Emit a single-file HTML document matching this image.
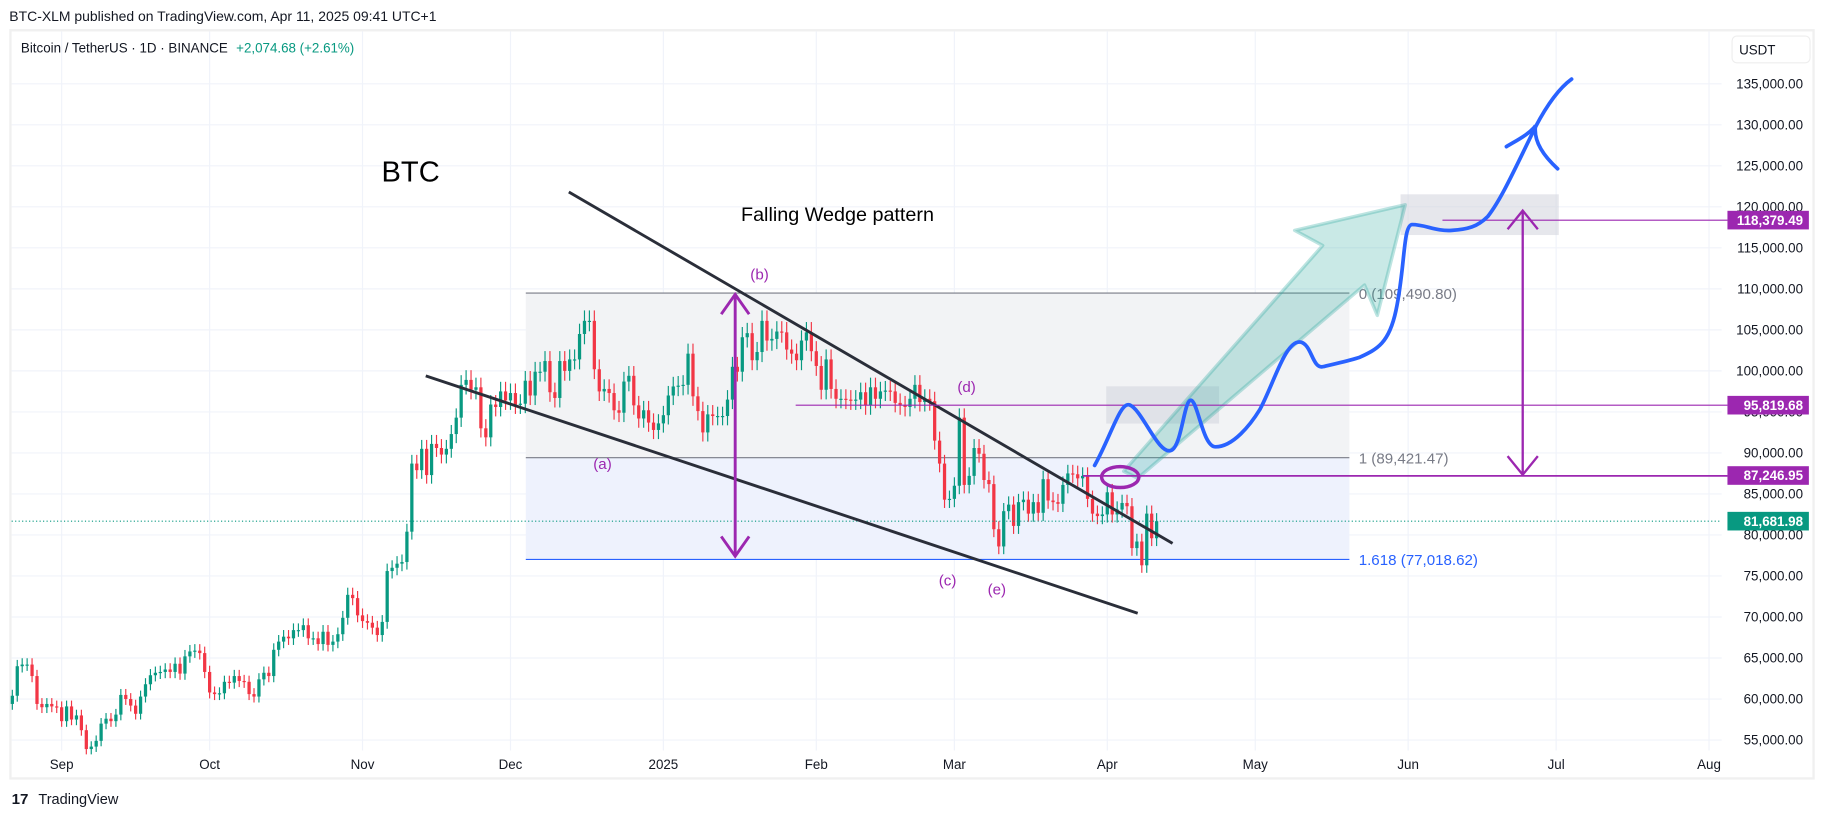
<!DOCTYPE html>
<html><head><meta charset="utf-8"><style>
html,body{margin:0;padding:0;background:#fff;}
svg{display:block;font-family:"Liberation Sans",sans-serif;}
</style></head><body>
<svg id="chart" width="1824" height="818" viewBox="0 0 1568 703" preserveAspectRatio="none" xmlns="http://www.w3.org/2000/svg">
<text x="8" y="18" font-size="12" fill="#131722">BTC-XLM published on TradingView.com, Apr 11, 2025 09:41 UTC+1</text>
<rect x="9" y="26" width="1550" height="643" fill="#fff" stroke="#f0f0f0" stroke-width="2"/>
<g id="grid"></g>
<g id="fib"></g>
<g id="candles"></g>
<g id="drawings"></g>
<g id="axes"></g>
<text x="18" y="45" font-size="11.5" fill="#131722">Bitcoin / TetherUS · 1D · BINANCE <tspan fill="#089981" dx="4">+2,074.68 (+2.61%)</tspan></text>
<rect x="1489" y="31" width="67" height="23" rx="4" fill="#fff" stroke="#eee"/>
<text x="1495" y="47" font-size="11.5" fill="#131722">USDT</text>
<g><text x="10" y="691" font-size="13" font-weight="bold" fill="#131722">17</text><text x="33" y="691" font-size="12.5" fill="#131722">TradingView</text></g>
</svg>
<script>
const NS="http://www.w3.org/2000/svg";
const startDate=Date.UTC(2024,7,22);
const closes=[
60.4,64.0,64.2,64.2,62.8,59.4,59.0,59.4,59.1,59.0,
57.3,59.1,57.5,58.0,56.2,53.9,54.2,54.9,57.0,57.6,57.3,58.1,60.5,60.0,59.2,58.2,60.3,61.8,62.9,63.2,63.3,63.6,63.3,64.3,63.1,65.2,65.8,65.9,65.6,63.3,
60.8,60.6,60.7,62.1,62.0,62.8,62.2,62.1,60.6,60.3,62.4,63.2,62.8,66.0,67.0,67.6,67.4,68.4,68.4,69.0,67.4,67.4,66.7,68.2,66.6,67.0,67.9,69.9,72.7,72.3,70.2,
69.5,69.3,68.7,67.8,69.4,75.6,76.0,76.5,76.7,80.4,88.7,87.9,90.5,87.3,91.1,90.6,89.8,90.5,92.3,94.3,98.3,98.9,97.7,98.0,93.0,91.9,95.9,95.6,97.5,96.4,
97.3,95.9,96.0,98.8,97.0,99.9,99.9,101.2,97.4,96.7,101.2,100.0,101.4,101.4,104.5,106.1,106.1,100.2,97.5,97.8,97.3,95.2,94.9,98.7,99.4,95.8,94.2,95.2,93.7,92.8,93.6,
94.6,97.0,98.1,98.2,98.3,102.1,96.9,95.1,92.5,94.7,94.5,94.5,94.5,96.5,100.5,99.9,104.1,104.6,101.3,102.3,106.1,103.7,103.9,104.8,104.7,102.6,102.1,101.3,103.7,104.7,102.4,
100.6,97.7,101.4,97.8,96.6,96.6,96.5,96.4,96.5,97.4,95.8,98.0,96.6,97.5,97.6,97.5,96.1,95.8,95.6,96.6,98.3,96.2,96.6,96.3,91.5,88.7,84.3,84.4,
86.0,94.3,86.1,87.2,90.6,89.9,86.7,86.2,80.7,78.6,82.9,83.7,81.1,84.0,84.3,82.6,84.0,82.7,86.8,84.2,84.0,83.8,86.1,87.5,87.4,86.9,87.2,84.4,82.6,82.3,82.5,
85.2,82.5,83.1,83.9,83.5,78.4,79.2,76.3,82.6,79.6,81.68
];
const priceTicks=[55000,60000,65000,70000,75000,80000,85000,90000,95000,100000,105000,110000,115000,120000,125000,130000,135000];
const monthLabels=["Sep","Oct","Nov","Dec","2025","Feb","Mar","Apr","May","Jun","Jul","Aug"];
const monthDates=[[2024,8],[2024,9],[2024,10],[2024,11],[2025,0],[2025,1],[2025,2],[2025,3],[2025,4],[2025,5],[2025,6],[2025,7]];
const fibLevels=[109490.80,89421.47,77018.62];
const fibLabels=["0 (109,490.80)","1 (89,421.47)","1.618 (77,018.62)"];
const priceMarkers=[118379.49,95819.68,87246.95,81681.98];

function yP(p){return 72+(135000-p)/1000*7.05;}
function xD(ms){return 53+(ms-Date.UTC(2024,8,1))/86400000*4.24;}
function xI(i){return xD(startDate+i*86400000);}
function mk(tag,attrs,parent){const e=document.createElementNS(NS,tag);for(const k in attrs)e.setAttribute(k,attrs[k]);parent.appendChild(e);return e;}
const grid=document.getElementById('grid'),axes=document.getElementById('axes'),cg=document.getElementById('candles'),fib=document.getElementById('fib'),dr=document.getElementById('drawings');

priceTicks.forEach(p=>{
 const l=mk('line',{x1:10,x2:1480,y1:yP(p),y2:yP(p),stroke:'#f0f3fa','stroke-width':1},grid);
 
 
 const t=mk('text',{x:1550,y:yP(p)+4,'font-size':11.5,fill:'#131722','text-anchor':'end'},axes);
 t.textContent=p.toLocaleString('en-US')+'.00';
 
 
});
monthDates.forEach((d,i)=>{
 const x=xD(Date.UTC(d[0],d[1],1));
 const l=mk('line',{x1:x,x2:x,y1:27,y2:645,stroke:'#f0f3fa','stroke-width':1},grid);
 
 
 const t=mk('text',{x:x,y:661,'font-size':11.5,fill:'#131722','text-anchor':'middle'},axes);
 t.textContent=monthLabels[i];
 
 
});

// fib zones
const fx1=452,fx2=1160;
let r=mk('rect',{x:fx1,y:yP(fibLevels[0]),width:fx2-fx1,height:yP(fibLevels[1])-yP(fibLevels[0]),fill:'#f2f3f5'},fib);


r=mk('rect',{x:fx1,y:yP(fibLevels[1]),width:fx2-fx1,height:yP(fibLevels[2])-yP(fibLevels[1]),fill:'#eef2fd'},fib);


fibLevels.forEach((p,i)=>{
 const c=i==2?'#2962ff':'#787b86';
 const l=mk('line',{x1:fx1,x2:fx2,y1:yP(p),y2:yP(p),stroke:c,'stroke-width':1},fib);
 
 
 const t=mk('text',{x:1168,y:yP(p)+5,'font-size':13,fill:c},fib);
 t.textContent=fibLabels[i];
 
 
});

// candles
closes.forEach((c,i)=>{
 const o=i==0?c-1:closes[i-1];
 const up=c>=o,col=up?'#089981':'#f23645';
 const hi=Math.max(o,c)*1.012,lo=Math.min(o,c)*0.988;
 const x=xI(i);
 const w=mk('line',{x1:x,x2:x,y1:yP(hi*1000),y2:yP(lo*1000),stroke:col,'stroke-width':1},cg);
 
 
 const yt=yP(Math.max(o,c)*1000),yb=yP(Math.min(o,c)*1000);
 const b=mk('rect',{x:x-1.4,y:yt,width:2.8,height:Math.max(1,yb-yt),fill:col},cg);
 
 
});
// last price line
let lp=mk('line',{x1:10,x2:1480,y1:yP(priceMarkers[3]),y2:yP(priceMarkers[3]),stroke:'#089981','stroke-width':1,'stroke-dasharray':'1 2'},dr);


</script>
<script>
// static drawings (annotation shapes)
const D=document.getElementById('drawings');
D.insertAdjacentHTML('beforeend',`
<line x1="489" y1="165" x2="1008" y2="467" stroke="#2a2e39" stroke-width="2.5"/>
<line x1="366" y1="323" x2="978" y2="527" stroke="#2a2e39" stroke-width="2.5"/>
<rect x="951" y="332" width="97" height="32" fill="#d1d4dc" opacity="0.55"/>
<rect x="1204" y="167" width="136" height="35" fill="#d1d4dc" opacity="0.55"/>
<polygon points="966,405 1137,211 1113,198 1208,176 1184,271 1173,245 978,411" fill="rgba(38,166,154,0.25)" stroke="rgba(38,166,154,0.3)" stroke-width="3" stroke-linejoin="round"/>
<line x1="1240" y1="189.2" x2="1485" y2="189.2" stroke="#9c27b0" stroke-width="1"/>
<line x1="684" y1="348.2" x2="1485" y2="348.2" stroke="#9c27b0" stroke-width="1"/>
<line x1="931" y1="409" x2="1485" y2="409" stroke="#9c27b0" stroke-width="1.5"/>
<ellipse cx="963" cy="410" rx="16" ry="9" fill="none" stroke="#9c27b0" stroke-width="3"/>
<g stroke="#9c27b0" stroke-width="2.5" fill="none"><line x1="632" y1="253" x2="632" y2="478"/><polyline points="620,270 632,253 644,270"/><polyline points="620,461 632,478 644,461"/></g>
<g stroke="#9c27b0" stroke-width="2" fill="none"><line x1="1309" y1="181" x2="1309" y2="408"/><polyline points="1296,197 1309,181 1322,197"/><polyline points="1296,392 1309,408 1322,392"/></g>
<path d="M941,400 C955,375 963,345 971,348 C982,352 996,392 1007,387 C1016,383 1018,342 1024,344 C1030,346 1034,384 1045,384 C1060,384 1075,365 1083,352 C1095,330 1105,292 1118,294 C1128,296 1128,318 1138,315 C1150,312 1160,310 1169,307 C1184,300 1194,295 1200,267 C1208,230 1206,193 1214,193 C1225,193 1235,199 1248,198 C1262,197 1270,195 1279,186 C1290,172 1300,150 1320,109 C1330,90 1340,76 1351,68" fill="none" stroke="#2962ff" stroke-width="3.2" stroke-linecap="round"/>
<path d="M1295,126 C1305,120 1315,115 1320,108 C1318,122 1328,135 1339,145" fill="none" stroke="#2962ff" stroke-width="3.2" stroke-linecap="round"/>
<text x="328" y="156" font-size="25" fill="#000">BTC</text>
<text x="637" y="190" font-size="17" fill="#000">Falling Wedge pattern</text>
<g font-size="13" fill="#9c27b0">
<text x="510" y="403">(a)</text>
<text x="645" y="240">(b)</text>
<text x="807" y="503">(c)</text>
<text x="823" y="337">(d)</text>
<text x="849" y="511">(e)</text>
</g>`);
const pm=[[118379.49,'#9c27b0','118,379.49'],[95819.68,'#9c27b0','95,819.68'],[87246.95,'#9c27b0','87,246.95'],[81681.98,'#089981','81,681.98']];
pm.forEach(m=>{
 const y=72+(135000-m[0])/1000*7.05;
 const g=document.createElementNS("http://www.w3.org/2000/svg",'g');
 
 
 g.innerHTML=`<rect x="1485" y="${y-8}" width="70" height="16" fill="${m[1]}"/><text x="1550" y="${y+4}" font-size="11.5" font-weight="bold" fill="#fff" text-anchor="end">${m[2]}</text>`;
 document.getElementById('axes').appendChild(g);
});
</script>
</body></html>
